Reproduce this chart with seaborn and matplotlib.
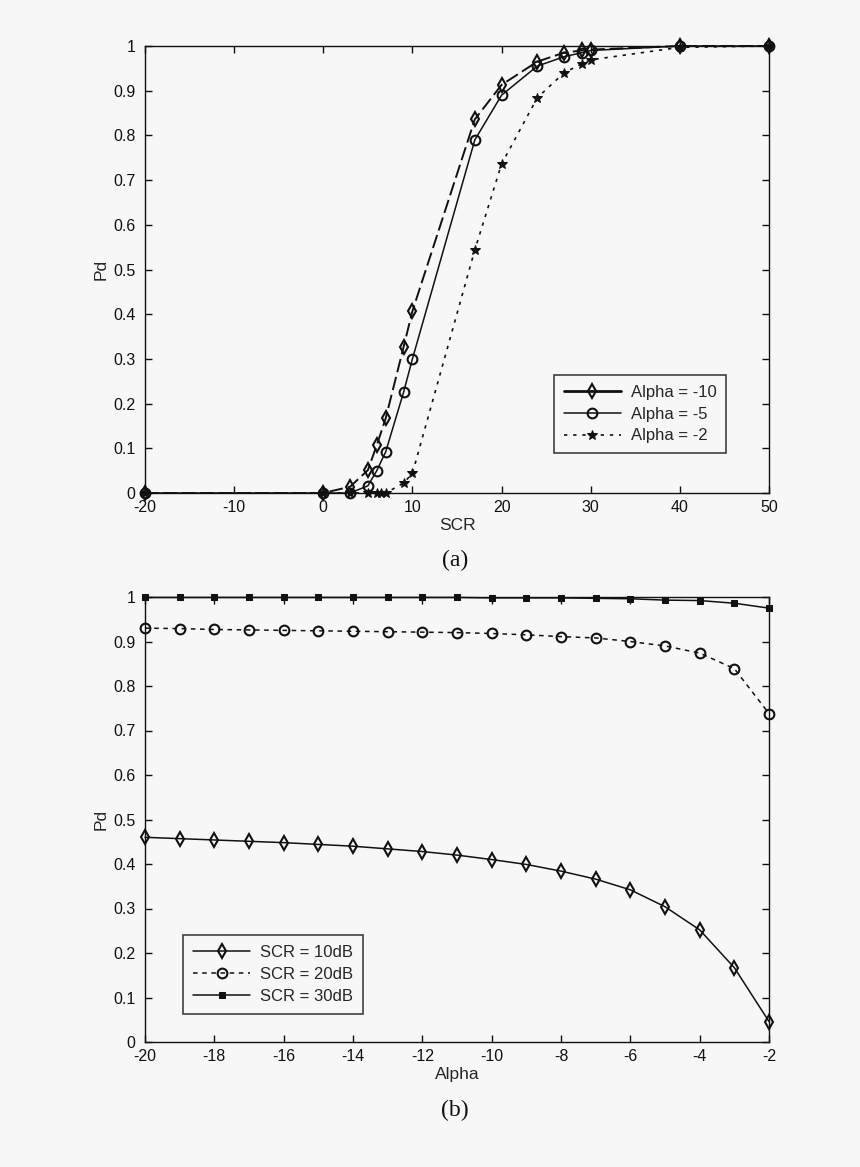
import matplotlib
matplotlib.use("Agg")
import matplotlib.pyplot as plt
import seaborn as sns
import pandas as pd

# ---- data (a) ----
scr_a10 = [-20, 0, 3, 5, 6, 7, 9, 10, 17, 20, 24, 27, 29, 30, 40, 50]
pd_a10 = [0, 0, 0.014, 0.051, 0.107, 0.167, 0.326, 0.407, 0.836, 0.913, 0.965, 0.985, 0.99, 0.992, 1.0, 1.0]
scr_a5 = [-20, 0, 3, 5, 6, 7, 9, 10, 17, 20, 24, 27, 29, 30, 40, 50]
pd_a5 = [0, 0, 0, 0.016, 0.05, 0.092, 0.225, 0.30, 0.79, 0.89, 0.955, 0.976, 0.985, 0.99, 1.0, 1.0]
scr_a2 = [-20, 0, 3, 5, 6, 6.5, 7, 9, 10, 17, 20, 24, 27, 29, 30, 40, 50]
pd_a2 = [0, 0, 0, 0, 0, 0, 0, 0.022, 0.044, 0.544, 0.736, 0.884, 0.94, 0.96, 0.969, 0.997, 1.0]
labels_a = ["Alpha = -10", "Alpha = -5", "Alpha = -2"]

# ---- data (b) ----
alpha_b = [-20, -19, -18, -17, -16, -15, -14, -13, -12, -11, -10, -9, -8, -7, -6, -5, -4, -3, -2]
pd_scr10 = [0.460, 0.457, 0.454, 0.451, 0.448, 0.444, 0.440, 0.434, 0.428, 0.420, 0.410, 0.399, 0.384, 0.366, 0.342, 0.304, 0.252, 0.167, 0.046]
pd_scr20 = [0.930, 0.929, 0.927, 0.926, 0.925, 0.924, 0.923, 0.922, 0.921, 0.920, 0.918, 0.915, 0.911, 0.908, 0.900, 0.890, 0.874, 0.839, 0.738]
pd_scr30 = [0.999, 0.999, 0.999, 0.999, 0.999, 0.999, 0.999, 0.999, 0.999, 0.999, 0.998, 0.998, 0.998, 0.997, 0.996, 0.993, 0.992, 0.986, 0.975]
labels_b = ["SCR = 10dB", "SCR = 20dB", "SCR = 30dB"]

sns.set_style("ticks")
bg = "#f7f7f7"
plt.rcParams["font.family"] = ["Liberation Sans", "DejaVu Sans"]
plt.rcParams["axes.unicode_minus"] = False
plt.rcParams["axes.linewidth"] = 1.0
plt.rcParams["xtick.direction"] = "in"
plt.rcParams["ytick.direction"] = "in"

fig = plt.figure(figsize=(8.6, 11.67), dpi=100, facecolor=bg)
ax1 = fig.add_axes([145/860, 1-493/1167, 624/860, 447/1167])
ax2 = fig.add_axes([145/860, 1-1042/1167, 624/860, 445/1167])

k = "#111111"
ms_d, ms_o = 7.5, 7
# ---- (a) ----
sns.lineplot(x=scr_a10, y=pd_a10, ax=ax1, color=k, lw=1.4, marker="d", markersize=ms_d,
             markerfacecolor="none", markeredgecolor=k, markeredgewidth=1.5,
             dashes=(7, 2.5), label=labels_a[0], clip_on=False)
sns.lineplot(x=scr_a5, y=pd_a5, ax=ax1, color=k, lw=1.1, marker="o", markersize=ms_o,
             markerfacecolor="none", markeredgecolor=k, markeredgewidth=1.5,
             label=labels_a[1], clip_on=False)
sns.lineplot(x=scr_a2, y=pd_a2, ax=ax1, color=k, lw=1.2, marker="*", markersize=7,
             markerfacecolor=k, markeredgecolor=k, linestyle=(0, (2, 3.5)),
             label=labels_a[2], clip_on=False)
ax1.set_xlim(-20, 50)
ax1.set_ylim(0, 1)
ax1.set_xticks(range(-20, 51, 10))
ax1.set_yticks([i/10 for i in range(11)])
ax1.set_yticklabels(["0", "0.1", "0.2", "0.3", "0.4", "0.5", "0.6", "0.7", "0.8", "0.9", "1"])
ax1.set_xlabel("SCR", fontsize=12.5, labelpad=2)
ax1.set_ylabel("Pd", fontsize=12.5, labelpad=3)
leg1 = ax1.legend(loc="lower right", bbox_to_anchor=(0.945, 0.07), frameon=True, fancybox=False,
                  edgecolor=k, fontsize=12, handlelength=3.4, borderpad=0.6, labelspacing=0.4,
                  handletextpad=0.6)
leg1.get_frame().set_linewidth(1.2)
leg1.get_frame().set_facecolor(bg)
leg1.get_lines()[0].set_linestyle("-")
leg1.get_lines()[0].set_linewidth(2)

# ---- (b) ----
sns.lineplot(x=alpha_b, y=pd_scr10, ax=ax2, color=k, lw=1.1, marker="d", markersize=ms_d,
             markerfacecolor="none", markeredgecolor=k, markeredgewidth=1.5,
             label=labels_b[0], clip_on=False)
sns.lineplot(x=alpha_b, y=pd_scr20, ax=ax2, color=k, lw=1.1, marker="o", markersize=ms_o,
             markerfacecolor="none", markeredgecolor=k, markeredgewidth=1.5,
             linestyle=(0, (3, 3)), label=labels_b[1], clip_on=False)
sns.lineplot(x=alpha_b, y=pd_scr30, ax=ax2, color=k, lw=1.1, marker="s", markersize=4.5,
             markerfacecolor=k, markeredgecolor=k, label=labels_b[2], clip_on=False)
ax2.set_xlim(-20, -2)
ax2.set_ylim(0, 1)
ax2.set_xticks(range(-20, -1, 2))
ax2.set_yticks([i/10 for i in range(11)])
ax2.set_yticklabels(["0", "0.1", "0.2", "0.3", "0.4", "0.5", "0.6", "0.7", "0.8", "0.9", "1"])
ax2.set_xlabel("Alpha", fontsize=12.5, labelpad=2)
ax2.set_ylabel("Pd", fontsize=12.5, labelpad=3)
leg2 = ax2.legend(loc="lower left", bbox_to_anchor=(0.048, 0.045), frameon=True, fancybox=False,
                  edgecolor=k, fontsize=12, handlelength=3.4, borderpad=0.6, labelspacing=0.4,
                  handletextpad=0.6)
leg2.get_frame().set_linewidth(1.2)
leg2.get_frame().set_facecolor(bg)

for ax in (ax1, ax2):
    ax.set_facecolor(bg)
    ax.tick_params(axis="both", which="both", top=True, right=True, length=5, width=1,
                   labelsize=11.5, colors=k)
    ax.tick_params(axis="y", pad=7)
    ax.tick_params(axis="x", pad=5)
    for s in ax.spines.values():
        s.set_visible(True)
        s.set_color(k)

fig.text(455/860, 1-560/1167, "(a)", ha="center", va="center", fontsize=17,
         family=["Liberation Serif", "DejaVu Serif"], color=k)
fig.text(455/860, 1-1110/1167, "(b)", ha="center", va="center", fontsize=17,
         family=["Liberation Serif", "DejaVu Serif"], color=k)

fig.savefig("out.png", dpi=100, facecolor=bg)
